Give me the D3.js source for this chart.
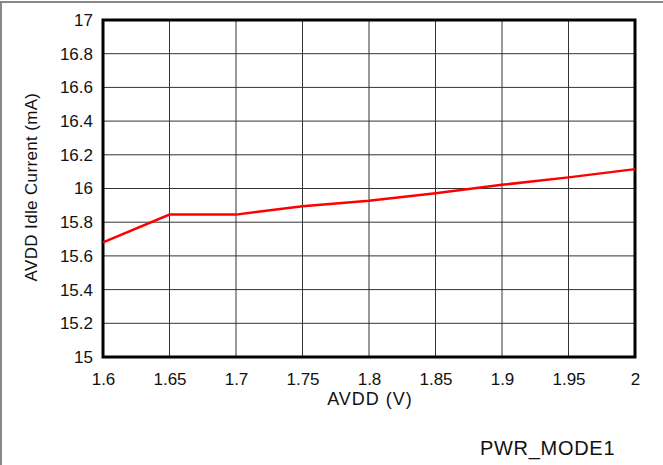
<!DOCTYPE html>
<html>
<head>
<meta charset="utf-8">
<script src="https://cdn.jsdelivr.net/npm/d3@7"></script>
<style>
  body { margin: 0; background: #fff; }
  svg { display: block; font-family: "Liberation Sans", Arial, sans-serif; }
</style>
</head>
<body>
<div id="chart"></div>
<script>
// data
const voltages = [1.6, 1.65, 1.7, 1.75, 1.8, 1.85, 1.9, 1.95, 2.0];
const idleCurrent = [15.68, 15.845, 15.845, 15.895, 15.927, 15.972, 16.022, 16.066, 16.115];
const xTicks = [1.6, 1.65, 1.7, 1.75, 1.8, 1.85, 1.9, 1.95, 2];
const yTicks = [15, 15.2, 15.4, 15.6, 15.8, 16, 16.2, 16.4, 16.6, 16.8, 17];

const width = 663, height = 465;
const plotLeft = 103, plotRight = 635, plotTop = 20, plotBottom = 357;

const svg = d3.select("#chart")
  .append("svg")
  .attr("width", width)
  .attr("height", height);

// outer frame (top and left only)
svg.append("line").attr("x1", 0).attr("x2", width).attr("y1", 2).attr("y2", 2)
  .attr("stroke", "#888").attr("stroke-width", 2);
svg.append("line").attr("x1", 1).attr("x2", 1).attr("y1", 2).attr("y2", height)
  .attr("stroke", "#888").attr("stroke-width", 2);

const x = d3.scaleLinear().domain([1.6, 2]).range([plotLeft, plotRight]);
const y = d3.scaleLinear().domain([15, 17]).range([plotBottom, plotTop]);

// grid
svg.append("g")
  .selectAll("line")
  .data(xTicks)
  .join("line")
  .attr("x1", d => x(d)).attr("x2", d => x(d))
  .attr("y1", plotTop).attr("y2", plotBottom)
  .attr("stroke", "#333").attr("stroke-width", 1);

svg.append("g")
  .selectAll("line")
  .data(yTicks)
  .join("line")
  .attr("x1", plotLeft).attr("x2", plotRight)
  .attr("y1", d => y(d)).attr("y2", d => y(d))
  .attr("stroke", "#333").attr("stroke-width", 1);

// axes labels
const xAxis = svg.append("g")
  .attr("transform", "translate(0," + plotBottom + ")")
  .call(d3.axisBottom(x).tickValues(xTicks).tickSize(0).tickPadding(16).tickFormat(d3.format("")));
xAxis.select(".domain").remove();
xAxis.selectAll("text").attr("font-size", 17).attr("fill", "#111")
  .attr("font-family", "Liberation Sans, Arial, sans-serif");

const yAxis = svg.append("g")
  .attr("transform", "translate(" + plotLeft + ",0)")
  .call(d3.axisLeft(y).tickValues(yTicks).tickSize(0).tickPadding(10).tickFormat(d3.format("")));
yAxis.select(".domain").remove();
yAxis.selectAll("text").attr("font-size", 17).attr("fill", "#111")
  .attr("font-family", "Liberation Sans, Arial, sans-serif");

// plot border
svg.append("rect")
  .attr("x", plotLeft).attr("y", plotTop)
  .attr("width", plotRight - plotLeft).attr("height", plotBottom - plotTop)
  .attr("fill", "none").attr("stroke", "#000").attr("stroke-width", 3);

// series
const line = d3.line()
  .x((d, i) => x(voltages[i]))
  .y(d => y(d));

svg.append("path")
  .datum(idleCurrent)
  .attr("d", line)
  .attr("fill", "none")
  .attr("stroke", "#ff0000")
  .attr("stroke-width", 2.5);

// titles
svg.append("text")
  .attr("x", 370)
  .attr("y", 405)
  .attr("text-anchor", "middle")
  .attr("font-size", 18)
  .attr("letter-spacing", 1)
  .attr("fill", "#111")
  .text("AVDD (V)");

svg.append("text")
  .attr("transform", "translate(37,187) rotate(-90)")
  .attr("text-anchor", "middle")
  .attr("font-size", 17)
  .attr("letter-spacing", 0.35)
  .attr("fill", "#111")
  .text("AVDD Idle Current (mA)");

svg.append("text")
  .attr("x", 480)
  .attr("y", 455)
  .attr("font-size", 20)
  .attr("letter-spacing", 0.7)
  .attr("fill", "#111")
  .text("PWR_MODE1");
</script>
</body>
</html>
